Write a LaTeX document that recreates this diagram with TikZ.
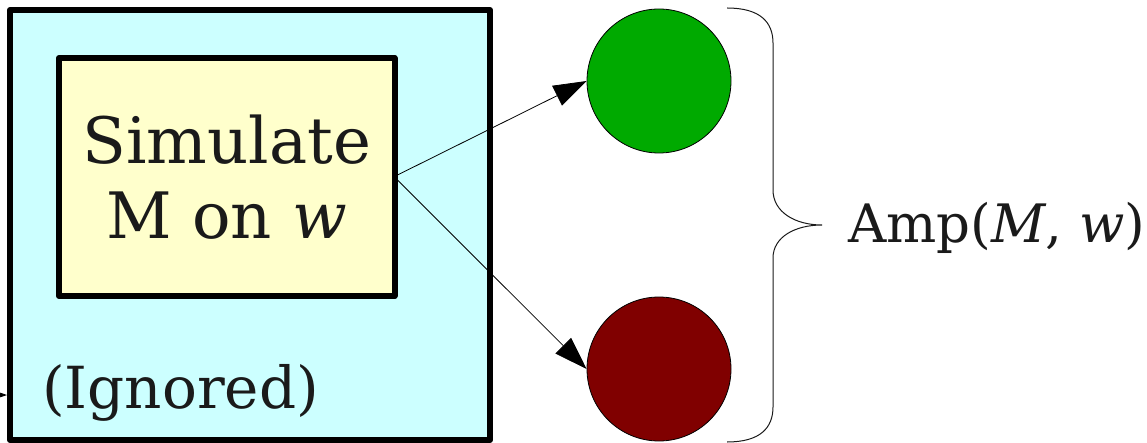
\documentclass[tikz,border=0pt]{standalone}
\usepackage{fontspec}
\setmainfont{DejaVu Serif}
\usetikzlibrary{arrows.meta}
\definecolor{cian}{HTML}{CCFFFF}
\definecolor{amarillo}{HTML}{FFFFCC}
\definecolor{verde}{HTML}{00AA00}
\definecolor{rojo}{HTML}{800000}
\definecolor{tinta}{HTML}{1A1A1A}
\begin{document}
\begin{tikzpicture}[x=1pt, y=1pt,
    caja/.style={draw, line width=6pt, line join=round, inner sep=0pt},
    estado/.style={circle, draw, line width=0.8pt, minimum size=144pt, inner sep=0pt},
    flecha/.style={-{Triangle[length=33pt, width=22pt]}, line width=0.8pt},
    texto/.style={inner sep=0pt, text=tinta}]
    \useasboundingbox (0,0) rectangle (1147,442);

    % 1. CAJA EXTERIOR (fondo cian)
    \node[caja, fill=cian, minimum width=480pt, minimum height=430pt] (externa) at (250,217) {};
    \node[texto, anchor=base west, font=\fontsize{58}{68}\selectfont] (ignorado) at (42,34) {(Ignored)};

    % 2. CAJA INTERIOR (simulacion)
    \node[caja, texto, fill=amarillo, minimum width=335.5pt, minimum height=238pt,
        font=\fontsize{64}{75}\selectfont, align=center] (simula) at (226.75,265) {Simulate\\M on \textit{w}};

    % 3. ESTADOS DE SALIDA
    \node[estado, fill=verde] (acepta) at (659,361) {};
    \node[estado, fill=rojo] (rechaza) at (659,73) {};

    % 4. FLECHAS
    \coordinate (entrada) at (-80,47);
    \draw[flecha] (entrada) -- (entrada -| externa.west);
    \draw[flecha] ([yshift=2pt]simula.east) -- (acepta.west);
    \draw[flecha] ([yshift=-3pt]simula.east) -- (rechaza.west);

    % 5. LLAVE Y ETIQUETA
    \coordinate (punta) at (822,217);
    \draw[line width=1pt, tinta] (727,434) .. controls (760,434) and (773,420) .. (773,399)
        -- (773,252) .. controls (773,230) and (795,217) .. (punta)
        .. controls (795,217) and (773,205) .. (773,184)
        -- (773,35) .. controls (773,14) and (760,0) .. (727,0);
    \node[texto, anchor=base west, font=\fontsize{53}{62}\selectfont] (amp) at ([xshift=26pt,yshift=-18pt]punta) {Amp(\textit{M}, \textit{w})};
\end{tikzpicture}
\end{document}
